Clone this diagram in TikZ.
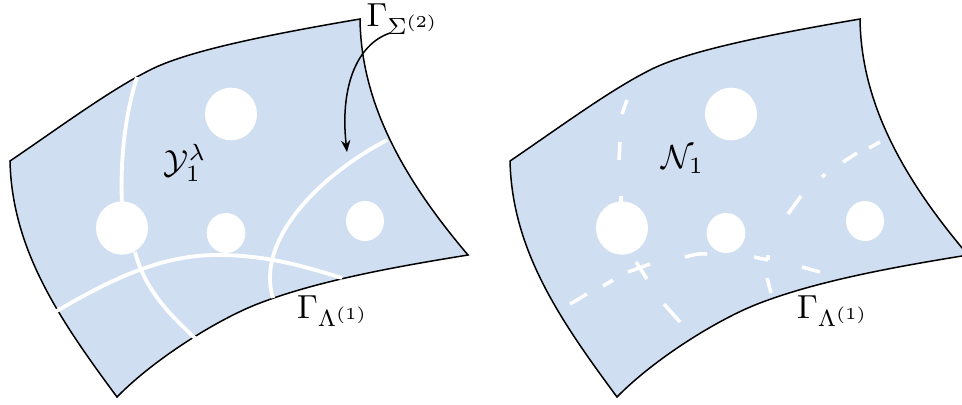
\documentclass[tikz,border=0pt]{standalone}
\usepackage{amsmath}
\usetikzlibrary{arrows.meta}
\definecolor{surfblue}{RGB}{208,222,242}
\begin{document}
\begin{tikzpicture}[x=0.3pt,y=-0.3pt,
  surf/.style={fill=surfblue,draw=black,line width=0.45pt},
  wline/.style={white,line width=1.15pt},
  wdash/.style={white,line width=1.05pt},
  hole/.style={fill=white},
  lbl/.style={inner sep=0pt}]
\useasboundingbox (0,0) rectangle (962,404);
\clip (0,0) rectangle (962,404);
% surfaces
\foreach \dx in {0,500}{
\begin{scope}[shift={(\dx,0)}]
\path[surf] (10,161) .. controls (60,127) and (110,90) .. (150,70)
  .. controls (185,52) and (260,36) .. (360,19)
  .. controls (361,100) and (400,175) .. (468,255)
  .. controls (400,266) and (320,280) .. (260,303)
  .. controls (220,318) and (155,358) .. (117,397)
  .. controls (60,320) and (12,250) .. (10,161) -- cycle;
\end{scope}}
% left white curves
\draw[wline] (137,77) .. controls (125,115) and (120,160) .. (122,204);
\draw[wline] (135,252) .. controls (145,290) and (170,315) .. (197,340);
\draw[wline] (55,312) .. controls (110,280) and (160,255) .. (217,255)
  .. controls (265,255) and (300,265) .. (342,278);
\draw[wline] (387,140) .. controls (320,175) and (255,240) .. (273,298);
% right dashed curves
\draw[wdash] (627,100) -- (622,114);
\draw[wdash] (620,142) -- (619,160);
\draw[wdash] (621,196) -- (621,202);
\draw[wdash] (636,262) -- (647,279);
\draw[wdash] (664,304) -- (680,322);
\draw[wdash] (570,304) -- (587,294);
\draw[wdash] (603,286) -- (613,280);
\draw[wdash] (628,272) -- (650,264);
\draw[wdash] (685,257) .. controls (692,255) and (700,253) .. (707,254);
\draw[wdash] (754,257) -- (768,260);
\draw[wdash] (768,255) -- (768,260);
\draw[wdash] (767,278) -- (771,293);
\draw[wdash] (802,267) -- (820,272);
\draw[wdash] (880,142) -- (869,148);
\draw[wdash] (857,153) -- (843,162);
\draw[wdash] (825,174) -- (822,177);
\draw[wdash] (801,196) -- (788,214);
% holes
\foreach \dx in {0,500}{
\begin{scope}[shift={(\dx,0)}]
\fill[hole] (231,114) ellipse[x radius=7.8pt,y radius=7.9pt];
\fill[hole] (122,228) ellipse[x radius=7.8pt,y radius=8pt];
\fill[hole] (226,233) ellipse[x radius=5.8pt,y radius=6pt];
\fill[hole] (365,221) ellipse[x radius=5.7pt,y radius=6pt];
\end{scope}}
% labels
\node[lbl] (ylab) at (185,163) {$\mathcal{Y}_1^{\lambda}$};
\node[lbl] (nlab) at (683,160) {$\mathcal{N}_1$};
\node[lbl] (gs) at (403,19) {$\Gamma_{\Sigma^{(2)}}$};
\node[lbl] (gl1) at (333,311) {$\Gamma_{\Lambda^{(1)}}$};
\node[lbl] (gl2) at (833,311) {$\Gamma_{\Lambda^{(1)}}$};
\coordinate (arrstart) at (390,33);
\coordinate (arrend) at (347,152);
\draw[-{Stealth[length=3.5pt,width=2.8pt]},line width=0.45pt] (arrstart) .. controls (355,45) and (340,90) .. (arrend);
\end{tikzpicture}
\end{document}
